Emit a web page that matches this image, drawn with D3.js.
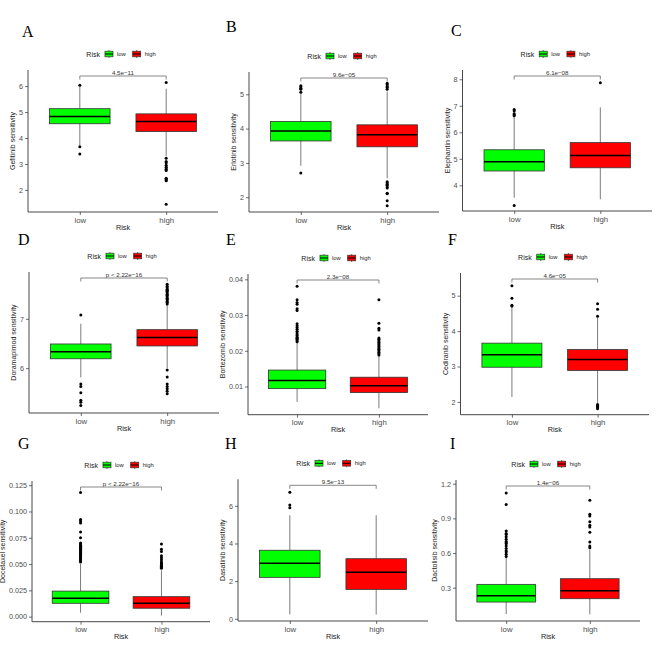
<!DOCTYPE html>
<html><head><meta charset="utf-8">
<script src="https://cdn.jsdelivr.net/npm/d3@7"></script>
<style>
html,body{margin:0;padding:0;background:#fff;}
svg{display:block;font-family:"Liberation Sans",Arial,sans-serif;}
</style></head>
<body><svg id="chart" width="669" height="670"></svg>
<script>
// ---------- DATA ----------
const panelLetters = ["A","B","C","D","E","F","G","H","I"];
const drugNames = ["Gefitinib","Erlotinib","Elephantin","Doramapimod","Bortezomib","Cediranib","Docetaxel","Dasatinib","Dactolisib"];
const pLabels = ["4.5e\u221211","9.6e\u221205","6.1e\u221208","p < 2.22e\u221216","2.3e\u221208","4.6e\u221205","p < 2.22e\u221216","9.5e\u221213","1.4e\u221206"];
const groups = ["low","high"];
const groupColors = ["#00FF00","#FF0000"];
// box stats: [whiskerLow, Q1, median, Q3, whiskerHigh]
const lowStats = [
  [3.72,4.55,4.83,5.13,5.97],
  [2.92,3.64,3.93,4.21,5.02],
  [3.53,4.54,4.89,5.34,6.60],
  [5.81,6.19,6.33,6.49,6.90],
  [0.0057,0.0094,0.0117,0.0146,0.0222],
  [2.14,2.98,3.33,3.66,4.68],
  [0.0038,0.0127,0.0175,0.0243,0.050],
  [0.23,2.20,2.95,3.64,5.50],
  [0.072,0.176,0.231,0.329,0.56]
];
const highStats = [
  [3.30,4.25,4.64,4.93,5.90],
  [2.55,3.47,3.82,4.11,5.08],
  [3.47,4.66,5.12,5.61,6.94],
  [6.00,6.45,6.62,6.78,7.28],
  [0.0039,0.0083,0.0102,0.0126,0.0186],
  [1.97,2.89,3.20,3.48,4.38],
  [0.001,0.008,0.0127,0.019,0.044],
  [0.22,1.56,2.47,3.19,5.50],
  [0.07,0.205,0.274,0.378,0.63]
];
const lowOutliers = [
  [6.03,3.66,3.38],
  [5.06,5.15,5.18,5.22,5.25,2.71],
  [6.62,6.66,6.70,6.80,6.86,3.24],
  [7.08,5.68,5.63,5.50,5.35,5.31,5.24],
  [0.0225,0.0228,0.0232,0.0235,0.0238,0.0242,0.0245,0.025,0.0255,0.026,0.0265,0.027,0.0276,0.0313,0.0318,0.033,0.0335,0.0343,0.0381],
  [4.71,4.73,4.93,5.28],
  [0.052,0.053,0.054,0.055,0.056,0.057,0.058,0.059,0.060,0.061,0.062,0.063,0.064,0.065,0.066,0.067,0.068,0.069,0.070,0.075,0.0805,0.089,0.091,0.0925,0.118],
  [5.90,6.05,6.72],
  [0.57,0.59,0.61,0.62,0.64,0.66,0.68,0.69,0.70,0.72,0.74,0.76,0.77,0.79,1.02,1.12]
];
const highOutliers = [
  [6.14,3.22,3.10,3.05,2.95,2.88,2.85,2.80,2.75,2.45,2.42,2.38,2.35,1.45],
  [5.15,5.20,5.23,5.28,5.32,2.45,2.42,2.38,2.35,2.30,2.27,2.12,2.10,1.90,1.75],
  [7.87],
  [7.30,7.33,7.35,7.38,7.40,7.42,7.45,7.48,7.50,7.53,7.56,7.58,7.60,7.63,7.66,7.70,5.96,5.82,5.68,5.63,5.58,5.53,5.48],
  [0.0188,0.0192,0.0196,0.020,0.0204,0.0208,0.0212,0.0216,0.022,0.0224,0.0228,0.0232,0.0236,0.0258,0.0263,0.0277,0.0343],
  [4.42,4.62,4.77,1.93,1.90,1.87,1.84,1.81],
  [0.046,0.047,0.048,0.049,0.050,0.051,0.052,0.054,0.056,0.058,0.062,0.064,0.069],
  [],
  [0.645,0.66,0.695,0.78,0.825,0.84,0.87,0.92,0.935,1.056]
];
const yTickValues = [
  [2,3,4,5,6],
  [2,3,4,5],
  [4,5,6,7,8],
  [6,7],
  [0.01,0.02,0.03,0.04],
  [2,3,4,5],
  [0,0.025,0.05,0.075,0.1,0.125],
  [0,2,4,6],
  [0.3,0.6,0.9,1.2]
];
const yTickFormats = ["d","d","d","d",".2f","d",".3f","d",".1f"];
const yDomains = [
  [1.15,6.62],[1.57,5.65],[3.03,8.35],
  [5.09,7.95],[0.0021,0.0415],[1.64,5.64],
  [-0.0048,0.129],[-0.12,7.41],[0.012,1.232]
];

// ---------- LAYOUT ----------
const plotRects = [
  [28,70,218,212],[249,72,439,212],[462.5,70,652,211],
  [29,272,219,413],[248,274,428,414.7],[460.5,273,649,414.7],
  [32,481,210,621.7],[238,479.3,428,621],[456,480,640,621]
];
const letterPos = [[22,37],[226,32],[451,36],[18,245],[226,245],[448,245],[18,449],[225,449],[450,449]];

const svg = d3.select("#chart");
const axisCol = "#333333", tickTextCol = "#4d4d4d";

panelLetters.forEach((L, i) => {
  const [x0,y0,x1,y1] = plotRects[i];
  const g = svg.append("g");
  const x = d3.scalePoint().domain(groups).range([x0,x1]).padding(0.6);
  const y = d3.scaleLinear().domain(yDomains[i]).range([y1,y0]);
  const step = x.step();
  const bw = step*0.7;

  svg.append("text").attr("x",letterPos[i][0]).attr("y",letterPos[i][1])
    .attr("font-family","'Liberation Serif','Times New Roman',serif").attr("font-size",16).attr("fill","#000").text(L);

  const yAxis = d3.axisLeft(y).tickValues(yTickValues[i]).tickFormat(d3.format(yTickFormats[i])).tickSize(3).tickSizeOuter(0).tickPadding(2);
  const ya = g.append("g").attr("transform",`translate(${x0},0)`).call(yAxis);
  const xAxis = d3.axisBottom(x).tickSize(3).tickSizeOuter(0).tickPadding(2);
  const xa = g.append("g").attr("transform",`translate(0,${y1})`).call(xAxis);
  [ya,xa].forEach(a=>{
    a.select(".domain").attr("stroke",axisCol).attr("stroke-width",0.9);
    a.selectAll(".tick line").attr("stroke",axisCol).attr("stroke-width",0.7);
    a.selectAll(".tick text").attr("fill",tickTextCol).attr("font-family","'Liberation Sans',Arial,sans-serif");
  });
  ya.selectAll(".tick text").attr("font-size",7.2);
  xa.selectAll(".tick text").attr("font-size",7.8);
  ya.select(".domain").attr("d",`M0,${y1}V${y0}`);
  xa.select(".domain").attr("d",`M${x0},0H${x1}`);

  let maxW = 0;
  ya.selectAll(".tick text").each(function(){ maxW = Math.max(maxW,this.getComputedTextLength()); });

  g.append("text").attr("transform",`translate(${x0-5-maxW-4},${(y0+y1)/2}) rotate(-90)`)
    .attr("text-anchor","middle").attr("font-size",7).attr("fill","#222").text(drugNames[i]+" sensitivity");
  g.append("text").attr("x",(x0+x1)/2).attr("y",y1+17.5).attr("text-anchor","middle")
    .attr("font-size",7.3).attr("fill","#222").text("Risk");

  const statsArr = [lowStats[i], highStats[i]];
  const outArr = [lowOutliers[i], highOutliers[i]];
  groups.forEach((grp, k) => {
    const cx = x(grp);
    const s = statsArr[k];
    g.append("line").attr("x1",cx).attr("x2",cx).attr("y1",y(s[3])).attr("y2",y(s[4])).attr("stroke","#444").attr("stroke-width",0.7);
    g.append("line").attr("x1",cx).attr("x2",cx).attr("y1",y(s[0])).attr("y2",y(s[1])).attr("stroke","#444").attr("stroke-width",0.7);
    g.append("rect").attr("x",cx-bw/2).attr("width",bw).attr("y",y(s[3])).attr("height",y(s[1])-y(s[3]))
      .attr("fill",groupColors[k]).attr("stroke","#333").attr("stroke-width",0.8);
    g.append("line").attr("x1",cx-bw/2).attr("x2",cx+bw/2).attr("y1",y(s[2])).attr("y2",y(s[2])).attr("stroke","#000").attr("stroke-width",1.5);
    g.selectAll(null).data(outArr[k]).enter().append("circle")
      .attr("cx",cx).attr("cy",d=>y(d)).attr("r",1.5).attr("fill","#000");
  });

  const by = y0 + 6;
  const xl = x(groups[0]), xh = x(groups[1]);
  g.append("path").attr("d",`M${xl},${by+3.5}V${by}H${xh}V${by+3.5}`).attr("fill","none").attr("stroke","#555").attr("stroke-width",0.7);
  g.append("text").attr("x",(xl+xh)/2).attr("y",by-1.5).attr("text-anchor","middle")
    .attr("font-size",6.2).attr("fill","#333").text(pLabels[i]);

  const lg = svg.append("g");
  const ly = y0 - 16;
  const tTitle = lg.append("text").attr("y",ly+2.5).attr("font-size",7).attr("fill","#222").text("Risk");
  const wTitle = tTitle.node().getComputedTextLength();
  tTitle.attr("x",0);
  let cur = wTitle + 4;
  groups.forEach((grp,k)=>{
    const ks = 10;
    const kx = cur;
    lg.append("line").attr("x1",kx+ks/2).attr("x2",kx+ks/2).attr("y1",ly-ks*0.4).attr("y2",ly+ks*0.4).attr("stroke","#333").attr("stroke-width",0.7);
    lg.append("rect").attr("x",kx+ks*0.1).attr("width",ks*0.8).attr("y",ly-ks*0.28).attr("height",ks*0.56)
      .attr("fill",groupColors[k]).attr("stroke","#333").attr("stroke-width",0.7);
    lg.append("line").attr("x1",kx+ks*0.1).attr("x2",kx+ks*0.9).attr("y1",ly).attr("y2",ly).attr("stroke","#000").attr("stroke-width",1);
    const t = lg.append("text").attr("x",kx+ks+3).attr("y",ly+2).attr("font-size",5.8).attr("fill","#222").text(grp);
    cur = kx + ks + 3 + t.node().getComputedTextLength() + 6;
  });
  const totalW = cur - 6;
  lg.attr("transform",`translate(${(x0+x1)/2 - 2 - totalW/2},0)`);
});
</script></body></html>
